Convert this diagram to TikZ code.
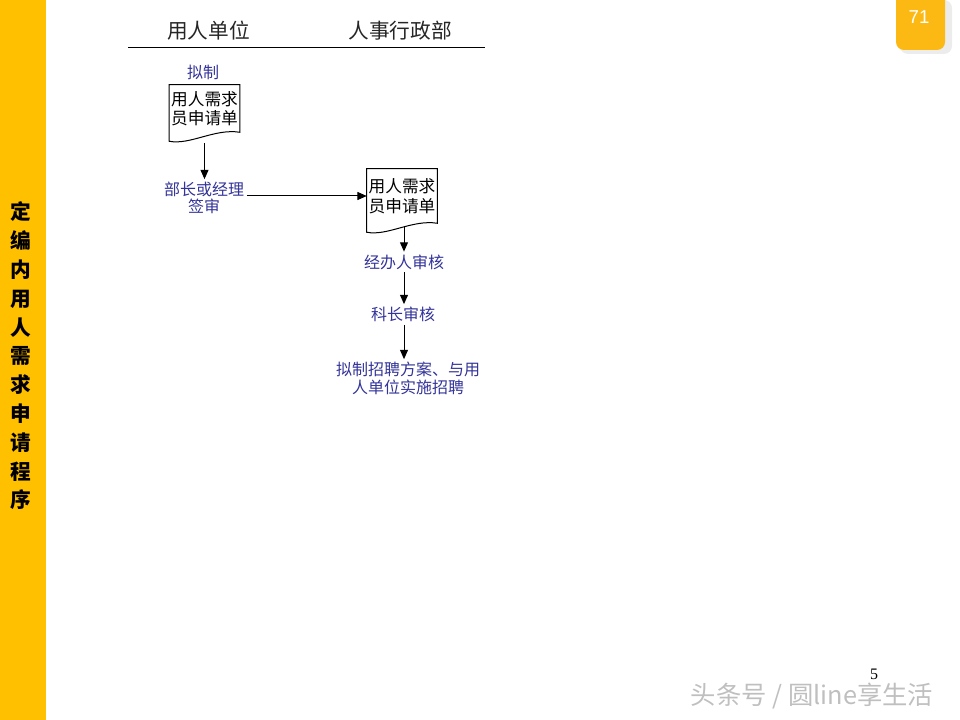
\documentclass[tikz,border=0pt]{standalone}
\usepackage{fontspec}
\newfontfamily\cjk{Noto Sans CJK SC}
\newfontfamily\numfont{Liberation Serif}
\newfontfamily\tabfont{Liberation Sans}
\usepackage{tikz}
\usetikzlibrary{arrows.meta,positioning}
\definecolor{barYellow}{HTML}{FFC000}
\definecolor{tabYellow}{HTML}{FDB913}
\definecolor{labelBlue}{HTML}{333399}
\definecolor{headGray}{HTML}{262626}
\tikzset{
    %Define standard arrow tip
    >={Triangle[length=7pt,width=6pt]},
    %Define style for document boxes
    docbox/.style={
           rectangle,
           inner sep=0pt,
           minimum width=52.5pt,
           minimum height=35.25pt,
           font=\cjk\fontsize{12.5}{14.6}\selectfont,
           align=center,
           text=black},
    %Define style for step labels
    steplabel/.style={
           rectangle,
           inner sep=2pt,
           font=\cjk\fontsize{12}{12.8}\selectfont,
           align=center,
           text=labelBlue},
    header/.style={
           font=\cjk\fontsize{15.5}{18}\selectfont,
           text=headGray},
    % Define arrow style
    pil/.style={
           ->,
           line width=0.75pt}
}
% outline of a document box with a wavy bottom
\newcommand\docframe[1]{%
  \draw[line width=0.75pt] (#1.north west) -- (#1.north east) -- (#1.south east)
     .. controls ([xshift=-18.75pt,yshift=3pt]#1.south east)
        and ([xshift=15.75pt,yshift=-9.75pt]#1.south west)
     .. ([yshift=-6.75pt]#1.south west) -- cycle;}

\begin{document}
\begin{tikzpicture}[x=0.75pt,y=-0.75pt]
\useasboundingbox (0,0) rectangle (960,720);
% side bar and page tab
\fill[barYellow] (0,0) rectangle (46,720);
\node[font=\cjk\bfseries\fontsize{15.5}{21.6}\selectfont, align=center] (title) at (21,356)
  {定\\编\\内\\用\\人\\需\\求\\申\\请\\程\\序};
\fill[gray!15, rounded corners=6pt] (900,0) -- (900,54) -- (952,54) -- (952,0) -- cycle;
\fill[tabYellow] (896,0) [rounded corners=6pt] -- (896,50) -- (945,50) [sharp corners] -- (945,0) -- cycle;
\node[font=\tabfont\fontsize{14}{16}\selectfont, text=white] (pageno) at (919,17) {71};

% swimlane headers
\node[header] (unit) at (208.5,31) {用人单位};
\node[header] (hr) at (400,31) {人事行政部};
\draw[line width=0.75pt] (128,48) -- (485,48);

% flow
\node[steplabel] (draft) at (203,72) {拟制};
\node[docbox] (req1) at (204.5,108.5) {用人需求\\员申请单};
\docframe{req1}
\node[steplabel] (sign) at (204,198) {部长或经理\\签审};
\node[docbox, minimum height=40.5pt] (req2) at (402,196) {用人需求\\员申请单};
\docframe{req2}
\node[steplabel] (check1) at (404,262) {经办人审核};
\node[steplabel] (check2) at (403,314.5) {科长审核};
\node[steplabel, font=\cjk\fontsize{12}{13.5}\selectfont] (plan) at (408,378.5) {拟制招聘方案、与用\\人单位实施招聘};

\draw[pil, shorten <=8pt] (req1.south) -- (req1.south |- sign.north);
\draw[pil] (sign.east |- req2.west) -- (req2.west);
\draw[pil, shorten <=3pt] (req2.south -| check1) -- (check1);
\draw[pil] (check1) -- (check1 |- check2.north);
\draw[pil] (check1 |- check2.south) -- (check1 |- plan.north);

% footer
\node[inner sep=0pt, font=\numfont\fontsize{12}{14}\selectfont] (slideno) at (874,674) {5};
\node[inner sep=0pt, font=\cjk\fontsize{19}{22}\selectfont, text=gray!50] (mark) at (812,696) {头条号 / 圆line享生活};
\end{tikzpicture}
\end{document}
